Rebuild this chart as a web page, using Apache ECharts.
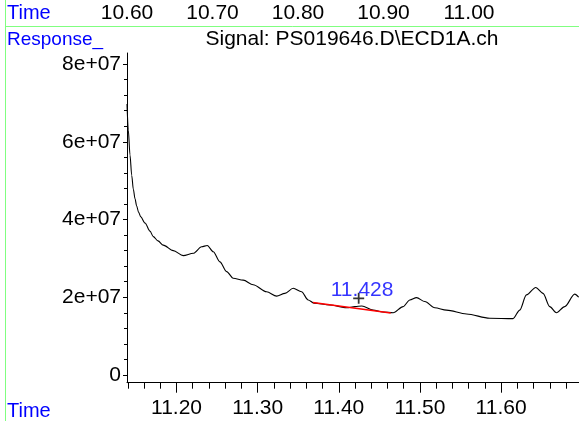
<!DOCTYPE html>
<html>
<head>
<meta charset="utf-8">
<script src="https://cdn.jsdelivr.net/npm/echarts@6/dist/echarts.min.js"></script>
<style>
html,body{margin:0;padding:0;background:#fff;}
#chart{width:579px;height:421px;}
</style>
</head>
<body>
<div id="chart"></div>
<script>
// Signal trace (time in min, response)
const times = [11.139, 11.1406, 11.1427, 11.1448, 11.1468, 11.1489, 11.1509, 11.1532, 11.1559, 11.1612,
  11.1673, 11.1714, 11.1772, 11.1837, 11.1960,
  11.2083, 11.2207, 11.2310, 11.2379, 11.2453, 11.2535, 11.2618, 11.2699, 11.2822, 11.2945,
  11.3110, 11.3234, 11.3336, 11.3438, 11.3541, 11.3623, 11.3693, 11.3890, 11.4096, 11.4198,
  11.4284, 11.4423, 11.4542, 11.4670, 11.4793, 11.4875, 11.4958, 11.5060, 11.5183, 11.5327,
  11.5574, 11.5860, 11.6147, 11.6230, 11.6312, 11.6427, 11.6517, 11.6599, 11.6681, 11.6784,
  11.6907, 11.6956];
const responses = [6.97e7, 6.30e7, 5.66e7, 5.14e7, 4.78e7, 4.53e7, 4.35e7, 4.19e7, 4.07e7, 3.91e7,
  3.70e7, 3.56e7, 3.45e7, 3.34e7, 3.20e7,
  3.07e7, 3.13e7, 3.30e7, 3.33e7, 3.17e7, 2.91e7, 2.66e7, 2.49e7, 2.44e7, 2.32e7,
  2.14e7, 2.03e7, 2.10e7, 2.23e7, 2.14e7, 1.93e7, 1.85e7, 1.80e7, 1.73e7, 1.76e7,
  1.775e7, 1.67e7, 1.62e7, 1.60e7, 1.76e7, 1.93e7, 1.99e7, 1.89e7, 1.73e7, 1.67e7,
  1.57e7, 1.46e7, 1.45e7, 1.67e7, 2.06e7, 2.25e7, 2.10e7, 1.76e7, 1.60e7, 1.76e7,
  2.08e7, 2.00e7];
// Integration baseline of the labelled peak
const baselineTimes = [11.368, 11.464];
const baselineValues = [1.865e7, 1.595e7];
// Peak marker and label
const peakMarkTime = [11.4245];
const peakMarkValue = [1.973e7];
const peakLabels = ['11.428'];
// Axis ticks
const bottomTicks = [11.20, 11.30, 11.40, 11.50, 11.60];
const bottomMinorTicks = [11.14, 11.16, 11.18, 11.22, 11.24, 11.26, 11.28, 11.32, 11.34, 11.36, 11.38,
  11.42, 11.44, 11.46, 11.48, 11.52, 11.54, 11.56, 11.58, 11.62, 11.64, 11.66, 11.68];
const topTicks = [10.60, 10.70, 10.80, 10.90, 11.00];
const yTicks = [0, 2e7, 4e7, 6e7, 8e7];
const yMinorTicks = [0.4e7, 0.8e7, 1.2e7, 1.6e7, 2.4e7, 2.8e7, 3.2e7, 3.6e7, 4.4e7, 4.8e7, 5.2e7, 5.6e7,
  6.4e7, 6.8e7, 7.2e7, 7.6e7];
const titleText = 'Signal: PS019646.D\\ECD1A.ch';

const FONT = 'Liberation Sans, Arial, sans-serif';
const FS = 21;
const chart = echarts.init(document.getElementById('chart'), null, {renderer: 'canvas'});

const xMin = 11.139, xMax = 11.696, yMin = -0.198e7, yMax = 8.283e7;

chart.setOption({
  backgroundColor: '#ffffff',
  animation: false,
  grid: [
    {left: 127, top: 53, width: 452, height: 329.7, outerBoundsMode: 'none', containLabel: false},
    {left: 127, top: 26.5, width: 342, height: 1, outerBoundsMode: 'none', containLabel: false}
  ],
  xAxis: [
    {type: 'value', gridIndex: 0, position: 'bottom', min: xMin, max: xMax,
      axisLine: {show: true, onZero: false, lineStyle: {color: '#000', width: 1}},
      axisTick: {show: true, customValues: bottomTicks, length: 10, lineStyle: {color: '#000'}},
      axisLabel: {show: true, customValues: bottomTicks, margin: 15, color: '#000', fontSize: FS, fontFamily: FONT,
        formatter: v => v.toFixed(2)},
      splitLine: {show: false}},
    {type: 'value', gridIndex: 0, position: 'bottom', min: xMin, max: xMax,
      axisLine: {show: false, onZero: false},
      axisTick: {show: true, customValues: bottomMinorTicks, length: 6, lineStyle: {color: '#000'}},
      axisLabel: {show: false},
      splitLine: {show: false}},
    {type: 'value', gridIndex: 1, position: 'top', min: 10.60, max: 11.00,
      axisLine: {show: false},
      axisTick: {show: false},
      axisLabel: {show: true, customValues: topTicks, margin: 3, color: '#000', fontSize: FS, fontFamily: FONT,
        formatter: v => v.toFixed(2)},
      splitLine: {show: false}}
  ],
  yAxis: [
    {type: 'value', gridIndex: 0, position: 'left', min: yMin, max: yMax,
      axisLine: {show: true, onZero: false, lineStyle: {color: '#000', width: 1}},
      axisTick: {show: true, customValues: yTicks, length: 4, lineStyle: {color: '#000'}},
      axisLabel: {show: true, customValues: yTicks, margin: 6, color: '#000', fontSize: FS, fontFamily: FONT,
        formatter: v => v === 0 ? '0' : (Math.round(v / 1e7)) + 'e+07'},
      splitLine: {show: false}},
    {type: 'value', gridIndex: 0, position: 'left', min: yMin, max: yMax,
      axisLine: {show: false, onZero: false},
      axisTick: {show: true, customValues: yMinorTicks, length: 3, lineStyle: {color: '#000'}},
      axisLabel: {show: false},
      splitLine: {show: false}},
    {type: 'value', gridIndex: 1, show: false, min: 0, max: 1}
  ],
  series: [
    {type: 'line', xAxisIndex: 0, yAxisIndex: 0, showSymbol: false, smooth: 0.3, smoothMonotone: 'x',
      lineStyle: {color: '#000', width: 1.1}, data: times.map((t, i) => [t, responses[i]]), z: 2},
    {type: 'line', xAxisIndex: 0, yAxisIndex: 0, showSymbol: false,
      lineStyle: {color: '#ff0000', width: 1.3}, data: baselineTimes.map((t, i) => [t, baselineValues[i]]), z: 3},
    {type: 'scatter', xAxisIndex: 0, yAxisIndex: 0, z: 4,
      symbol: 'path://M4.2,0h1.6v4.2h4.2v1.6h-4.2v4.2h-1.6v-4.2h-4.2v-1.6h4.2z', symbolSize: 11,
      itemStyle: {color: '#000'},
      label: {show: true, position: 'inside', offset: [3.4, -7.6], color: '#0000ff', fontSize: FS, fontFamily: FONT,
        formatter: p => peakLabels[p.dataIndex]},
      data: peakMarkTime.map((t, i) => [t, peakMarkValue[i]])}
  ],
  graphic: [
    {type: 'line', shape: {x1: 5.5, y1: 0, x2: 5.5, y2: 421}, style: {stroke: '#80ff80', lineWidth: 1}, silent: true},
    {type: 'line', shape: {x1: 5.5, y1: 26.5, x2: 579, y2: 26.5}, style: {stroke: '#80ff80', lineWidth: 1}, silent: true},
    {type: 'text', x: 7, y: 13.3, style: {text: 'Time', fill: '#0000ff', font: '20px ' + FONT, verticalAlign: 'middle', align: 'left'}},
    {type: 'text', x: 7, y: 40, style: {text: 'Response_', fill: '#0000ff', font: '19px ' + FONT, verticalAlign: 'middle', align: 'left'}},
    {type: 'text', x: 352, y: 39, style: {text: titleText, fill: '#000', font: FS + 'px ' + FONT, verticalAlign: 'middle', align: 'center'}},
    {type: 'text', x: 7, y: 411.5, style: {text: 'Time', fill: '#0000ff', font: '20px ' + FONT, verticalAlign: 'middle', align: 'left'}}
  ]
});
</script>
</body>
</html>
